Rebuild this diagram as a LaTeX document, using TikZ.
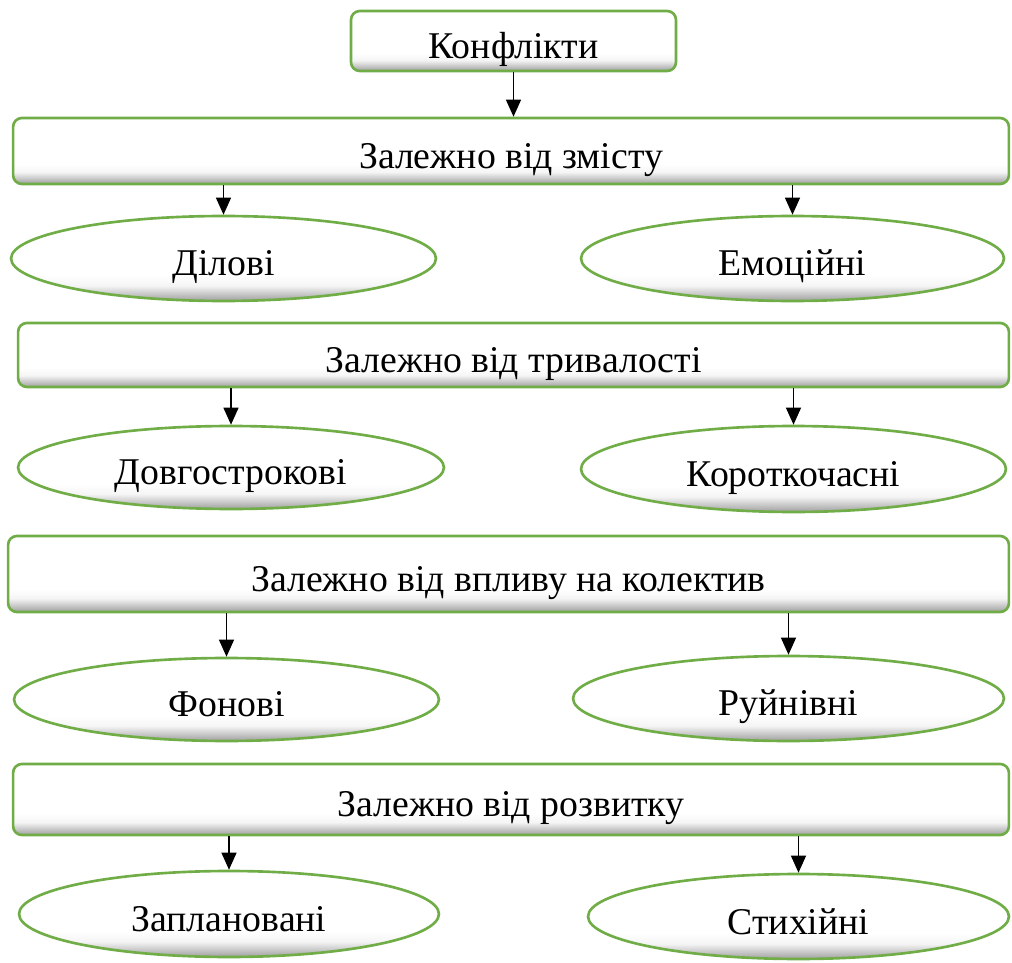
\documentclass[tikz,border=0pt]{standalone}
\usepackage{fontspec}
\setmainfont{Liberation Serif}
\usetikzlibrary{shapes.geometric,arrows.meta}
\definecolor{leafgreen}{RGB}{112,173,71}
\pgfdeclareverticalshading{bevel}{100bp}{color(0bp)=(gray!75); color(25bp)=(gray!75); color(29bp)=(gray!45); color(34bp)=(gray!8); color(40bp)=(white); color(100bp)=(white)}
\tikzset{
  box/.style={draw=leafgreen, line width=1.5pt, rounded corners=5pt, shade, shading=bevel, inner sep=0pt, text height=0.7cm, text depth=0pt, font=\fontsize{21.5}{25}\selectfont},
  oval/.style={box, ellipse, sharp corners},
  arr/.style={-{Triangle[width=0.3cm,length=0.34cm]}, line width=0.7pt}
}

\begin{document}
\begin{tikzpicture}[x=0.02cm, y=-0.02cm]
\useasboundingbox (0, 0) rectangle (1012, 963);
\node[box, minimum width=6.5cm, minimum height=1.2cm] (konf) at (513.5, 41) {Конфлікти};
\node[box, minimum width=19.92cm, minimum height=1.32cm] (zmist) at (511, 151) {Залежно від змісту};
\node[oval, minimum width=8.5cm, minimum height=1.7cm] (dilovi) at (223.5, 258.5) {Ділові};
\node[oval, minimum width=8.46cm, minimum height=1.7cm] (emots) at (792.5, 258.5) {Емоційні};
\node[box, minimum width=19.82cm, minimum height=1.28cm] (tryv) at (513.5, 355) {Залежно від тривалості};
\node[oval, minimum width=8.52cm, minimum height=1.66cm] (dovho) at (231, 467.5) {Довгострокові};
\node[oval, minimum width=8.5cm, minimum height=1.72cm] (korot) at (793.5, 469) {Короткочасні};
\node[box, minimum width=20.02cm, minimum height=1.52cm] (vplyv) at (508.5, 574) {Залежно від впливу на колектив};
\node[oval, minimum width=8.5cm, minimum height=1.66cm] (fonovi) at (226.5, 699.5) {Фонові};
\node[oval, minimum width=8.62cm, minimum height=1.7cm] (ruin) at (788.5, 698.5) {Руйнівні};
\node[box, minimum width=19.92cm, minimum height=1.42cm] (rozv) at (511, 799.5) {Залежно від розвитку};
\node[oval, minimum width=8.4cm, minimum height=1.72cm] (zapl) at (229, 914) {Заплановані};
\node[oval, minimum width=8.42cm, minimum height=1.7cm] (styh) at (798.5, 916.5) {Стихійні};
\draw[arr] (konf.south) -- (konf.south |- zmist.north);
\draw[arr] (dilovi.north |- zmist.south) -- (dilovi.north);
\draw[arr] (emots.north |- zmist.south) -- (emots.north);
\draw[arr] (dovho.north |- tryv.south) -- (dovho.north);
\draw[arr] (korot.north |- tryv.south) -- (korot.north);
\draw[arr] (fonovi.north |- vplyv.south) -- (fonovi.north);
\draw[arr] (ruin.north |- vplyv.south) -- (ruin.north);
\draw[arr] (zapl.north |- rozv.south) -- (zapl.north);
\draw[arr] (styh.north |- rozv.south) -- (styh.north);
\end{tikzpicture}
\end{document}
